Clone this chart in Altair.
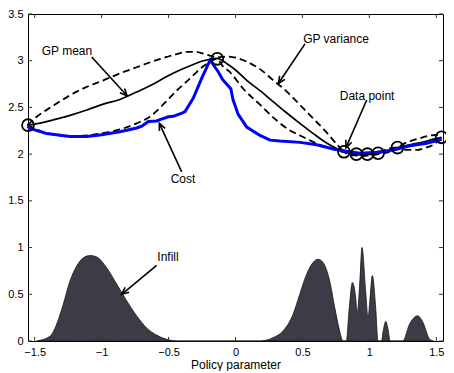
import math
import altair as alt
import pandas as pd

# ---------------- data ----------------
x_ticks = [-1.5, -1.0, -0.5, 0.0, 0.5, 1.0, 1.5]
y_ticks = [0, 0.5, 1, 1.5, 2, 2.5, 3, 3.5]

mean_x = [-1.554, -1.45, -1.361, -1.236, -1.111, -0.987, -0.863, -0.738, -0.613, -0.514,
          -0.414, -0.315, -0.24, -0.166, -0.137, -0.066, 0.009, 0.084, 0.183, 0.283,
          0.383, 0.481, 0.581, 0.68, 0.756, 0.81, 0.86, 0.905, 0.945, 0.985, 1.025,
          1.067, 1.14, 1.209, 1.30, 1.40, 1.48, 1.54]
mean_y = [2.31, 2.335, 2.366, 2.415, 2.472, 2.535, 2.585, 2.665, 2.75, 2.83,
          2.90, 2.96, 3.0, 3.02, 3.025, 2.97, 2.89, 2.79, 2.68, 2.56,
          2.44, 2.33, 2.22, 2.12, 2.06, 2.025, 2.005, 1.995, 1.99, 1.995, 2.0,
          2.01, 2.035, 2.07, 2.10, 2.13, 2.16, 2.18]

upper_x = [-1.554, -1.485, -1.36, -1.236, -1.111, -0.987, -0.862, -0.738, -0.614, -0.514,
           -0.44, -0.365, -0.30, -0.24, -0.18, -0.137, -0.066, 0.009, 0.084, 0.183,
           0.283, 0.383, 0.432, 0.507, 0.581, 0.65, 0.706, 0.76, 0.81, 0.86, 0.905,
           0.945, 0.985, 1.025, 1.067, 1.14, 1.209, 1.27, 1.328, 1.40, 1.453, 1.50, 1.54]
upper_y = [2.31, 2.40, 2.52, 2.63, 2.72, 2.79, 2.865, 2.93, 2.995, 3.04,
           3.07, 3.094, 3.095, 3.076, 3.05, 3.035, 3.045, 3.03, 2.99, 2.91,
           2.79, 2.67, 2.60, 2.49, 2.38, 2.28, 2.19, 2.10, 2.035, 2.02, 2.0,
           2.0, 2.0, 2.02, 2.02, 2.06, 2.075, 2.12, 2.15, 2.18, 2.20, 2.205, 2.19]

lower_x = [-1.554, -1.45, -1.36, -1.236, -1.111, -1.012, -0.937, -0.863, -0.788, -0.738,
           -0.663, -0.59, -0.514, -0.44, -0.37, -0.315, -0.25, -0.2, -0.137, -0.10,
           -0.043, 0.058, 0.183, 0.308, 0.40, 0.482, 0.631, 0.756, 0.81, 0.86, 0.905,
           0.945, 0.985, 1.025, 1.067, 1.14, 1.209, 1.28, 1.354, 1.42, 1.478, 1.54]
lower_y = [2.31, 2.245, 2.21, 2.19, 2.20, 2.22, 2.24, 2.265, 2.30, 2.33,
           2.38, 2.46, 2.57, 2.68, 2.77, 2.845, 2.93, 2.98, 3.02, 2.95,
           2.88, 2.70, 2.53, 2.36, 2.26, 2.20, 2.10, 2.045, 2.02, 1.99, 1.985,
           1.98, 1.985, 1.99, 2.0, 2.02, 2.06, 2.045, 2.045, 2.07, 2.10, 2.18]

cost_x = [-1.554, -1.535, -1.41, -1.236, -1.111, -1.012, -0.863, -0.738, -0.70, -0.651,
          -0.589, -0.564, -0.502, -0.465, -0.40, -0.377, -0.315, -0.253, -0.19, -0.128,
          -0.097, -0.06, -0.035, -0.018, 0.019, 0.084, 0.183, 0.258, 0.333, 0.482,
          0.607, 0.73, 0.83, 0.93, 1.055, 1.179, 1.304, 1.428, 1.54]
cost_y = [2.30, 2.276, 2.22, 2.19, 2.19, 2.205, 2.24, 2.28, 2.30, 2.35,
          2.355, 2.37, 2.40, 2.405, 2.44, 2.455, 2.60, 2.81, 3.006, 2.88,
          2.80, 2.74, 2.70, 2.58, 2.43, 2.29, 2.20, 2.15, 2.14, 2.126,
          2.10, 2.056, 2.03, 2.01, 2.02, 2.045, 2.09, 2.116, 2.16]

pts_x = [-1.55, -0.136, 0.81, 0.903, 0.985, 1.065, 1.21, 1.54]
pts_y = [2.31, 3.02, 2.025, 2.0, 2.0, 2.01, 2.07, 2.18]

infill_x = [-1.485, -1.386, -1.336, -1.287, -1.237, -1.187, -1.137, -1.087, -1.037, -0.963,
            -0.888, -0.813, -0.739, -0.664, -0.59, -0.515, -0.44,
            0.181, 0.28, 0.355, 0.43, 0.48, 0.53, 0.579, 0.616, 0.654, 0.704, 0.741, 0.778, 0.803,
            0.828, 0.848, 0.873, 0.898, 0.908, 0.928, 0.945, 0.972, 0.99, 1.005, 1.022, 1.047, 1.064,
            1.09, 1.105, 1.123, 1.14, 1.155,
            1.25, 1.30, 1.36, 1.40, 1.45, 1.48]
infill_y = [0.0, 0.05, 0.18, 0.39, 0.64, 0.80, 0.89, 0.915, 0.90, 0.785,
            0.61, 0.43, 0.27, 0.14, 0.064, 0.018, 0.0,
            0.0, 0.035, 0.107, 0.286, 0.50, 0.71, 0.84, 0.875, 0.84, 0.64, 0.36, 0.107, 0.0,
            0.0, 0.32, 0.625, 0.46, 0.29, 0.61, 1.0, 0.535, 0.25, 0.45, 0.70, 0.36, 0.0,
            0.0, 0.12, 0.21, 0.12, 0.0,
            0.0, 0.18, 0.27, 0.20, 0.02, 0.0]

labels = ["GP mean", "GP variance", "Data point", "Cost", "Infill"]
label_x = [-1.259, 0.751, 0.983, -0.392, -0.504]
label_y = [3.105, 3.233, 2.625, 1.73, 0.896]
tail_x = [-1.074, 0.519, 0.98, -0.402, -0.589]
tail_y = [3.04, 3.18, 2.58, 1.81, 0.81]
head_x = [-0.81, 0.32, 0.825, -0.569, -0.85]
head_y = [2.625, 2.756, 2.07, 2.33, 0.50]

# ---------------- chart ----------------
W, H = 415, 327
XDOM = [-1.55, 1.55]
YDOM = [0, 3.5]
FONT = "Liberation Sans"

xs = alt.Scale(domain=XDOM, nice=False, zero=False)
ys = alt.Scale(domain=YDOM, nice=False, zero=False)
xaxis = alt.Axis(values=x_ticks, format="~g", title="Policy parameter",
                 labelPadding=5, titlePadding=2)
yaxis = alt.Axis(values=y_ticks, format="~g", title=None, labelPadding=5)


def X(f):
    return alt.X(f, type="quantitative", scale=xs, axis=xaxis)


def Y(f):
    return alt.Y(f, type="quantitative", scale=ys, axis=yaxis)


# pixel scale factors for the arrowhead angles
sx = W / (XDOM[1] - XDOM[0])
sy = H / (YDOM[1] - YDOM[0])
angles = [math.degrees(math.atan2((hx - tx) * sx, (hy - ty) * sy)) % 360
          for tx, ty, hx, hy in zip(tail_x, tail_y, head_x, head_y)]

df_inf = pd.DataFrame({"x": infill_x, "y": infill_y})
df_mean = pd.DataFrame({"x": mean_x, "y": mean_y, "o": range(len(mean_x))})
df_up = pd.DataFrame({"x": upper_x, "y": upper_y, "o": range(len(upper_x))})
df_lo = pd.DataFrame({"x": lower_x, "y": lower_y, "o": range(len(lower_x))})
df_cost = pd.DataFrame({"x": cost_x, "y": cost_y, "o": range(len(cost_x))})
df_pts = pd.DataFrame({"x": pts_x, "y": pts_y})
df_ann = pd.DataFrame({"label": labels, "lx": label_x, "ly": label_y,
                       "tx": tail_x, "ty": tail_y, "hx": head_x, "hy": head_y,
                       "ang": angles})
df_xt = pd.DataFrame({"t": x_ticks})
df_yt = pd.DataFrame({"t": y_ticks})

infill = alt.Chart(df_inf).mark_area(
    fill="#3c3c46", stroke="#151515", strokeWidth=0.8, interpolate="monotone"
).encode(x=X("x"), y=Y("y"))

mean = alt.Chart(df_mean).mark_line(color="black", strokeWidth=1.7, interpolate="monotone").encode(
    x=X("x"), y=Y("y"), order="o:Q")
upper = alt.Chart(df_up).mark_line(color="black", strokeWidth=1.8, strokeDash=[7, 4],
                                   interpolate="monotone").encode(
    x=X("x"), y=Y("y"), order="o:Q")
lower = alt.Chart(df_lo).mark_line(color="black", strokeWidth=1.8, strokeDash=[7, 4],
                                   interpolate="monotone").encode(
    x=X("x"), y=Y("y"), order="o:Q")
cost = alt.Chart(df_cost).mark_line(color="#0000ff", strokeWidth=3).encode(
    x=X("x"), y=Y("y"), order="o:Q")
pts = alt.Chart(df_pts).mark_point(shape="circle", filled=False, size=140,
                                   color="black", strokeWidth=1.8, opacity=1).encode(
    x=X("x"), y=Y("y"))

shafts = alt.Chart(df_ann).mark_rule(color="black", strokeWidth=1.6).encode(
    x=X("tx"), y=Y("ty"), x2="hx:Q", y2="hy:Q")
heads = alt.Chart(df_ann).mark_point(
    shape="M -0.45 1 L 0 0 L 0.45 1", filled=False, size=200,
    color="black", strokeWidth=1.6, opacity=1
).encode(x=X("hx"), y=Y("hy"), angle=alt.Angle("ang:Q", scale=None))
texts = alt.Chart(df_ann).mark_text(
    font=FONT, fontSize=12, color="black", align="center", baseline="middle"
).encode(x=X("lx"), y=Y("ly"), text="label:N")

tick_b = alt.Chart(df_xt).mark_rule(color="#333333").encode(
    x=X("t"), y=alt.value(H), y2=alt.value(H - 4))
tick_t = alt.Chart(df_xt).mark_rule(color="#333333").encode(
    x=X("t"), y=alt.value(0), y2=alt.value(4))
tick_l = alt.Chart(df_yt).mark_rule(color="#333333").encode(
    y=Y("t"), x=alt.value(0), x2=alt.value(4))
tick_r = alt.Chart(df_yt).mark_rule(color="#333333").encode(
    y=Y("t"), x=alt.value(W), x2=alt.value(W - 4))

chart = alt.layer(
    infill, tick_b, tick_t, tick_l, tick_r, upper, lower, mean, cost, pts,
    shafts, heads, texts
).properties(
    width=W, height=H,
    autosize=alt.AutoSizeParams(type="none"),
    padding={"left": 20, "top": 6, "right": 3, "bottom": 30},
    background="white",
).configure_view(
    stroke="black", strokeWidth=1
).configure_axis(
    grid=False, domain=False, ticks=False,
    labelFont=FONT, labelFontSize=11, labelColor="black",
    titleFont=FONT, titleFontSize=12, titleFontWeight="normal", titleColor="black",
)

chart.save("out.html", embed_options={"renderer": "svg", "actions": False})
